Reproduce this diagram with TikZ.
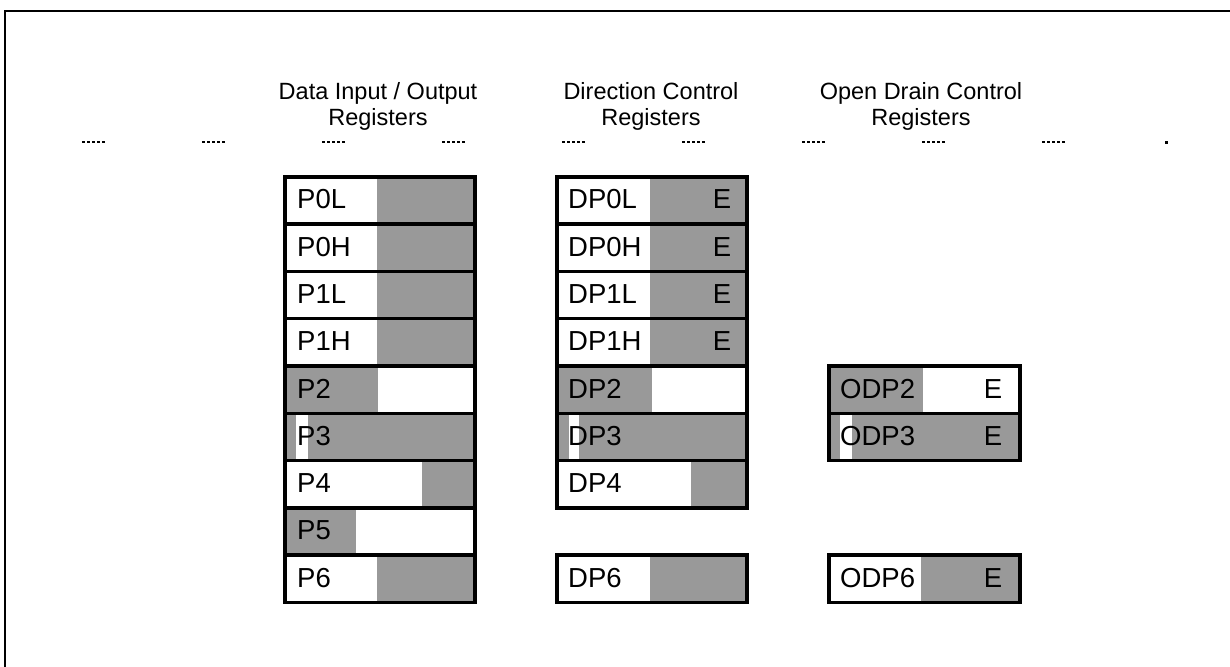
\documentclass[tikz,border=0pt]{standalone}
\usepackage{fontspec}
\setmainfont{Liberation Sans}
\usetikzlibrary{calc}
\begin{document}
\begin{tikzpicture}[x=1pt,y=-1pt,
  reg/.style={draw, line width=3.5pt, minimum width=190pt, minimum height=47.3pt, inner sep=0pt, anchor=north west},
  shadefill/.style={fill=black!40},
  gapfill/.style={fill=white},
  lbl/.style={font=\fontsize{27.5}{30}\selectfont, anchor=west, inner sep=0pt},
  elbl/.style={font=\fontsize{27.5}{30}\selectfont, anchor=east, inner sep=0pt},
  hdr/.style={font=\fontsize{23.5}{26}\selectfont, align=center, inner sep=0pt},
  tickmark/.style={line width=2.6pt, dash pattern=on 3pt off 2pt}
]
\useasboundingbox (0,0) rectangle (1230,666);
\clip (0,0) rectangle (1230,666);
% frame
\draw[line width=2.2pt] (5,700) -- (5,11) -- (1300,11);

% headers
\node[hdr] (h1) at (378,106) {Data Input / Output\\Registers};
\node[hdr] (h2) at (651,106) {Direction Control\\Registers};
\node[hdr] (h3) at (921,106) {Open Drain Control\\Registers};

% tab marks
\foreach \tx in {82,202,322,442,562,682,802,922,1042}
  \draw[tickmark] (\tx,142) -- (\tx+24,142);
\fill (1165,140.5) rectangle (1168,143.5);

% ---- shading, column 1 (x 283..473)
\fill[shadefill] (377,175) rectangle (473,364.2);
\fill[shadefill] (283,364.2) rectangle (378,411.5);
\fill[shadefill] (283,411.5) rectangle (473,458.8);
\fill[gapfill] (296,411.5) rectangle (308,458.8);
\fill[shadefill] (422,458.8) rectangle (473,506.1);
\fill[shadefill] (283,506.1) rectangle (356,553.4);
\fill[shadefill] (377,553.4) rectangle (473,600.7);
% ---- shading, column 2 (x 555..745)
\fill[shadefill] (650,175) rectangle (745,364.2);
\fill[shadefill] (555,364.2) rectangle (652,411.5);
\fill[shadefill] (555,411.5) rectangle (745,458.8);
\fill[gapfill] (569,411.5) rectangle (579,458.8);
\fill[shadefill] (691,458.8) rectangle (745,506.1);
\fill[shadefill] (650,553.4) rectangle (745,600.7);
% ---- shading, column 3 (x 827..1018)
\fill[shadefill] (827,364.2) rectangle (923,411.5);
\fill[shadefill] (827,411.5) rectangle (1018,458.8);
\fill[gapfill] (840,411.5) rectangle (852,458.8);
\fill[shadefill] (921,553.4) rectangle (1018,600.7);

% ---- column 1 registers
\node[reg] (p0l) at (283,175) {};
\node[reg] (p0h) at (283,222.3) {};
\node[reg] (p1l) at (283,269.6) {};
\node[reg] (p1h) at (283,316.9) {};
\node[reg] (p2)  at (283,364.2) {};
\node[reg] (p3)  at (283,411.5) {};
\node[reg] (p4)  at (283,458.8) {};
\node[reg] (p5)  at (283,506.1) {};
\node[reg] (p6)  at (283,553.4) {};
\node[lbl] (tp0l) at ($(p0l.west)+(14,-1)$) {P0L};
\node[lbl] (tp0h) at ($(p0h.west)+(14,-1)$) {P0H};
\node[lbl] (tp1l) at ($(p1l.west)+(14,-1)$) {P1L};
\node[lbl] (tp1h) at ($(p1h.west)+(14,-1)$) {P1H};
\node[lbl] (tp2)  at ($(p2.west)+(14,-1)$) {P2};
\node[lbl] (tp3)  at ($(p3.west)+(14,-1)$) {P3};
\node[lbl] (tp4)  at ($(p4.west)+(14,-1)$) {P4};
\node[lbl] (tp5)  at ($(p5.west)+(14,-1)$) {P5};
\node[lbl] (tp6)  at ($(p6.west)+(14,-1)$) {P6};

% ---- column 2 registers
\node[reg] (dp0l) at (555,175) {};
\node[reg] (dp0h) at (555,222.3) {};
\node[reg] (dp1l) at (555,269.6) {};
\node[reg] (dp1h) at (555,316.9) {};
\node[reg] (dp2)  at (555,364.2) {};
\node[reg] (dp3)  at (555,411.5) {};
\node[reg] (dp4)  at (555,458.8) {};
\node[reg] (dp6)  at (555,553.4) {};
\node[lbl] (tdp0l) at ($(dp0l.west)+(13,-1)$) {DP0L};
\node[lbl] (tdp0h) at ($(dp0h.west)+(13,-1)$) {DP0H};
\node[lbl] (tdp1l) at ($(dp1l.west)+(13,-1)$) {DP1L};
\node[lbl] (tdp1h) at ($(dp1h.west)+(13,-1)$) {DP1H};
\node[lbl] (tdp2)  at ($(dp2.west)+(13,-1)$) {DP2};
\node[lbl] (tdp3)  at ($(dp3.west)+(13,-1)$) {DP3};
\node[lbl] (tdp4)  at ($(dp4.west)+(13,-1)$) {DP4};
\node[lbl] (tdp6)  at ($(dp6.west)+(13,-1)$) {DP6};
\node[elbl] (edp0l) at ($(dp0l.east)+(-17,-1)$) {E};
\node[elbl] (edp0h) at ($(dp0h.east)+(-17,-1)$) {E};
\node[elbl] (edp1l) at ($(dp1l.east)+(-17,-1)$) {E};
\node[elbl] (edp1h) at ($(dp1h.east)+(-17,-1)$) {E};

% ---- column 3 registers
\node[reg, minimum width=191pt] (odp2) at (827,364.2) {};
\node[reg, minimum width=191pt] (odp3) at (827,411.5) {};
\node[reg, minimum width=191pt] (odp6) at (827,553.4) {};
\node[lbl] (todp2) at ($(odp2.west)+(13,-1)$) {ODP2};
\node[lbl] (todp3) at ($(odp3.west)+(13,-1)$) {ODP3};
\node[lbl] (todp6) at ($(odp6.west)+(13,-1)$) {ODP6};
\node[elbl] (eodp2) at ($(odp2.east)+(-19,-1)$) {E};
\node[elbl] (eodp3) at ($(odp3.east)+(-19,-1)$) {E};
\node[elbl] (eodp6) at ($(odp6.east)+(-19,-1)$) {E};
\end{tikzpicture}
\end{document}
